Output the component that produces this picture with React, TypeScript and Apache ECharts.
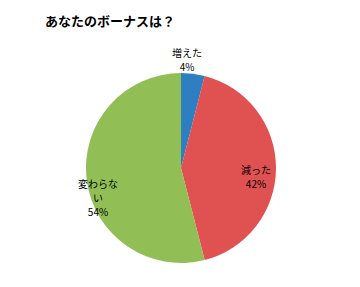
import React, { useEffect, useRef } from "react";
import * as echarts from "echarts";

const categories = ["増えた", "減った", "変わらない"];
const labelNames = ["増えた", "減った", "変わらな\nい"];
const values = [4, 42, 54];
const colors = ["#2E7EC2", "#E05252", "#92BF55"];

export default function App() {
  const ref = useRef<HTMLDivElement>(null);
  useEffect(() => {
    if (!ref.current) return;
    const chart = echarts.init(ref.current, null, { renderer: "svg" });
    const labelPos = [
      [179, 51],
      [248, 168],
      [90, 189],
    ];
    chart.setOption({
      animation: false,
      title: {
        text: "あなたのボーナスは？",
        left: 32,
        top: 1,
        textStyle: { fontSize: 13, fontWeight: "bold", color: "#000", fontFamily: "Noto Sans CJK JP" },
      },
      series: [
        {
          type: "pie",
          center: [173, 160],
          radius: 95,
          startAngle: 90,
          clockwise: true,
          data: categories.map((c, i) => ({
            name: c,
            value: values[i],
            itemStyle: { color: colors[i] },
            label: { formatter: labelNames[i] + "\n" + values[i] + "%" },
          })),
          label: {
            show: true,
            position: "inside",
            fontSize: 10,
            lineHeight: 14,
            color: "#000",
            align: "center",
            fontFamily: "Noto Sans CJK JP",
          },
          labelLine: { show: false },
          labelLayout: (p: any) => ({
            x: labelPos[p.dataIndex][0],
            y: labelPos[p.dataIndex][1],
            align: "center",
            verticalAlign: "middle",
          }),
        },
      ],
    });
    return () => chart.dispose();
  }, []);
  return <div ref={ref} style={{ width: 344, height: 271 }} />;
}
